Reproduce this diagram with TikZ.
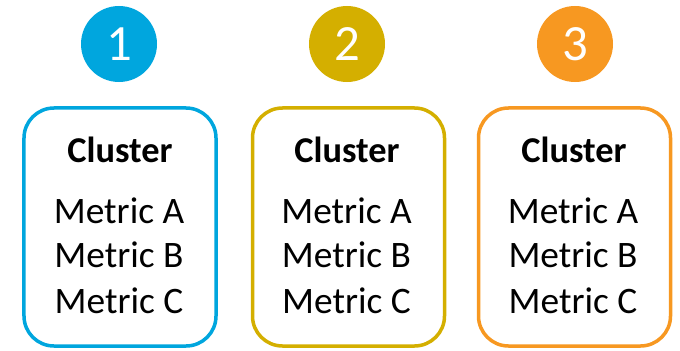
\documentclass[tikz,border=0pt]{standalone}
\usepackage{fontspec}
\setmainfont{Carlito}
\usepackage{xcolor}
\usepackage{tikz}
\usetikzlibrary{positioning}

\definecolor{clblue}{RGB}{0,166,222}
\definecolor{clgold}{RGB}{212,175,0}
\definecolor{clorange}{RGB}{247,152,33}

\tikzset{
  numdot/.style={circle, fill=#1, text=white, minimum size=76bp, inner sep=0pt,
    font=\fontsize{51}{55}\selectfont},
  clbox/.style={draw=#1, line width=3.5bp, rounded corners=30bp, fill=white,
    minimum width=192bp, minimum height=238bp, inner sep=0pt},
  head/.style={anchor=base, font=\fontsize{36.5}{40}\selectfont\bfseries},
  metric/.style={anchor=base, font=\fontsize{37.5}{42}\selectfont}
}

\begin{document}
\begin{tikzpicture}[x=1bp, y=1bp]
\useasboundingbox (0, 0) rectangle (680, 350);

\node[numdot=clblue] (n1) at (119, 306) {1};
\node[numdot=clgold] (n2) at (347, 306) {2};
\node[numdot=clorange] (n3) at (575, 306) {3};

\node[clbox=clblue] (box1) at (120, 123) {};
\node[clbox=clgold] (box2) at (348.5, 123) {};
\node[clbox=clorange] (box3) at (574.5, 123) {};

\node[head] (h1) at (120, 188) {Cluster};
\node[metric] (a1) at (119, 127) {Metric A};
\node[metric] (b1) at (119, 83) {Metric B};
\node[metric] (c1) at (119, 37) {Metric C};

\node[head] (h2) at (347, 188) {Cluster};
\node[metric] (a2) at (346.5, 127) {Metric A};
\node[metric] (b2) at (346.5, 83) {Metric B};
\node[metric] (c2) at (346.5, 37) {Metric C};

\node[head] (h3) at (574, 188) {Cluster};
\node[metric] (a3) at (573, 127) {Metric A};
\node[metric] (b3) at (573, 83) {Metric B};
\node[metric] (c3) at (573, 37) {Metric C};
\end{tikzpicture}
\end{document}
